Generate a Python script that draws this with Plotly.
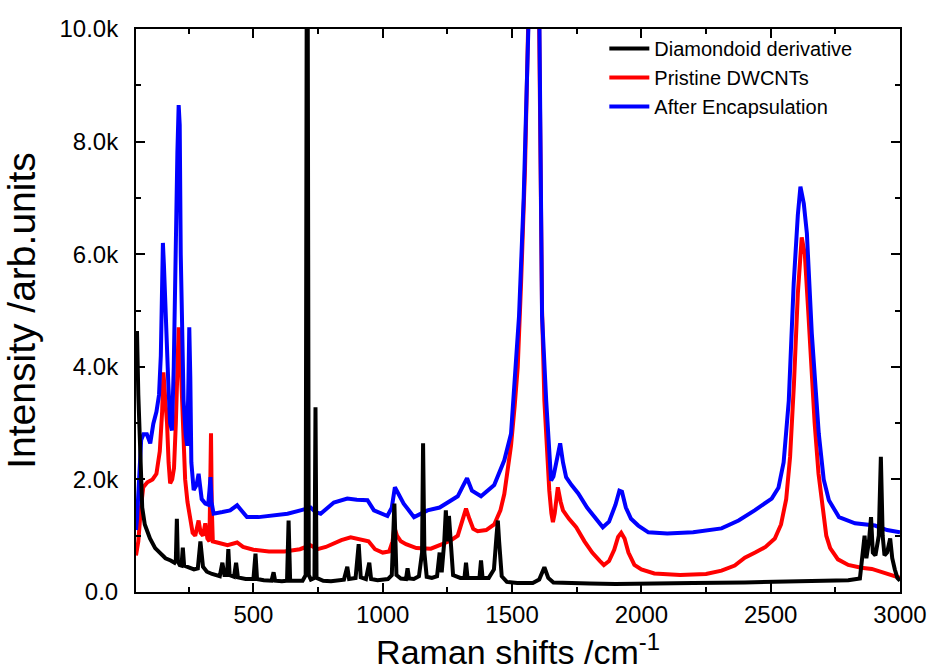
import plotly.graph_objects as go

# ---- data ----
black_x = [46, 50, 55, 62, 70, 80, 100, 120, 140, 160, 180, 195, 200, 204, 208, 215, 222, 227, 232, 250,
           270, 285, 295, 305, 320, 340, 370, 380, 388, 398, 403, 408, 425, 433, 440, 470, 500, 508, 514, 540,
           570, 578, 584, 610, 630, 636, 642, 690, 702, 706, 710, 714, 722, 736, 740, 744, 770, 800, 830, 850,
           863, 870, 895, 907, 915, 935, 948, 955, 980, 1020, 1035, 1045, 1053, 1070, 1090, 1096, 1102, 1120, 1140, 1152,
           1156, 1161, 1170, 1190, 1210, 1220, 1228, 1238, 1244, 1250, 1256, 1262, 1272, 1300, 1316, 1322, 1328, 1360, 1374, 1380,
           1386, 1410, 1430, 1440, 1445, 1450, 1460, 1480, 1520, 1580, 1605, 1625, 1640, 1660, 1700, 1800, 1900, 2000, 2200, 2400,
           2500, 2600, 2700, 2800, 2845, 2855, 2863, 2870, 2880, 2888, 2895, 2905, 2918, 2926, 2933, 2940, 2950, 2962, 2970, 2980,
           2990, 3000]
black_y = [4600, 4600, 3500, 2300, 1500, 1200, 950, 780, 680, 600, 560, 520, 560, 1300, 540, 480, 470, 790, 470, 430,
           400, 420, 900, 450, 360, 320, 280, 520, 300, 300, 760, 300, 270, 520, 260, 230, 230, 680, 230, 210,
           200, 350, 200, 190, 200, 1270, 200, 200, 300, 10500, 10500, 300, 220, 250, 3280, 250, 200, 190, 200, 220,
           450, 230, 250, 850, 260, 230, 520, 230, 210, 230, 300, 1570, 300, 240, 230, 420, 240, 230, 280, 700,
           2640, 700, 270, 250, 280, 700, 350, 900, 1450, 900, 1350, 1000, 300, 250, 250, 520, 250, 250, 250, 560,
           250, 250, 400, 1000, 1270, 900, 280, 180, 160, 160, 220, 440, 250, 170, 160, 150, 140, 150, 160, 170,
           180, 190, 200, 210, 240, 700, 1000, 600, 900, 1330, 700, 650, 1000, 2400, 1000, 650, 700, 950, 600, 400,
           250, 200]

red_x = [46, 55, 65, 74, 90, 110, 125, 138, 147, 152, 158, 166, 172, 178, 186, 193, 200, 206, 211, 216,
         222, 228, 236, 245, 255, 265, 275, 288, 296, 305, 314, 322, 330, 333, 336, 339, 343, 360, 400, 437,
         460, 500, 560, 620, 680, 720, 748, 780, 811, 840, 876, 920, 945, 970, 1000, 1025, 1038, 1045, 1055, 1070,
         1090, 1130, 1186, 1230, 1264, 1290, 1310, 1322, 1335, 1350, 1367, 1400, 1431, 1455, 1470, 1483, 1496, 1510, 1522, 1535,
         1550, 1562, 1585, 1605, 1610, 1616, 1625, 1635, 1644, 1652, 1658, 1665, 1677, 1688, 1697, 1720, 1748, 1780, 1810, 1840,
         1855, 1875, 1895, 1910, 1922, 1935, 1950, 1973, 2000, 2050, 2150, 2250, 2310, 2361, 2400, 2440, 2480, 2516, 2540, 2560,
         2575, 2590, 2605, 2620, 2632, 2645, 2658, 2670, 2685, 2700, 2715, 2730, 2760, 2800, 2850, 2891, 2950, 3000]
red_y = [650, 900, 1500, 1860, 1950, 2000, 2100, 2500, 3200, 3900, 3500, 3000, 2300, 1930, 2000, 2200, 3000, 3800, 4700, 4400,
         3600, 2600, 2000, 1600, 1300, 1050, 1000, 1270, 1050, 1000, 1220, 950, 900, 1600, 2820, 1500, 900, 880, 830, 880,
         800, 750, 720, 720, 760, 830, 760, 800, 860, 920, 970, 930, 900, 760, 700, 720, 900, 1150, 1000, 900,
         850, 780, 770, 850, 920, 1000, 1300, 1480, 1300, 1120, 1080, 1100, 1200, 1450, 1740, 2220, 2600, 3300, 4000, 5500,
         7500, 10000, 14000, 10000, 7000, 5000, 3400, 2400, 1800, 1400, 1240, 1400, 1860, 1600, 1450, 1300, 1150, 900, 700, 550,
         480, 550, 750, 980, 1050, 950, 700, 480, 400, 330, 300, 320, 380, 470, 610, 700, 800, 950, 1200, 1650,
         2400, 3700, 5300, 6300, 6000, 5000, 3900, 3000, 2100, 1500, 1000, 780, 580, 480, 430, 410, 330, 250]

blue_x = [46, 50, 58, 66, 75, 88, 101, 113, 125, 135, 142, 147, 150, 154, 159, 165, 171, 178, 185, 192,
          200, 206, 211, 215, 219, 224, 230, 238, 244, 249, 252, 256, 260, 269, 280, 288, 294, 300, 314, 325,
          330, 334, 338, 346, 380, 410, 437, 460, 475, 520, 592, 632, 682, 721, 740, 760, 811, 863, 900, 941,
          966, 1018, 1035, 1047, 1060, 1081, 1121, 1173, 1220, 1264, 1290, 1310, 1326, 1345, 1380, 1431, 1470, 1496, 1508, 1527,
          1545, 1568, 1587, 1606, 1612, 1616, 1632, 1645, 1651, 1660, 1672, 1686, 1697, 1709, 1730, 1756, 1790, 1818, 1851, 1875,
          1900, 1915, 1925, 1940, 1960, 1988, 2027, 2100, 2200, 2310, 2376, 2438, 2504, 2530, 2550, 2570, 2589, 2605, 2615, 2628,
          2640, 2659, 2686, 2705, 2725, 2764, 2826, 2903, 2950, 3000]
blue_y = [1100, 1300, 2000, 2700, 2800, 2800, 2640, 2990, 3200, 3500, 4200, 5600, 6200, 5800, 5000, 4200, 3700, 3000, 2870, 4000,
          6500, 7800, 8650, 8300, 6000, 4300, 3400, 2800, 2600, 3800, 4700, 3800, 2300, 1810, 1900, 2100, 1800, 1650, 1570, 1550,
          1800, 2040, 1600, 1390, 1420, 1450, 1540, 1400, 1330, 1330, 1360, 1390, 1450, 1500, 1420, 1390, 1590, 1660, 1640, 1630,
          1450, 1350, 1500, 1860, 1750, 1570, 1330, 1450, 1500, 1630, 1700, 1880, 2020, 1800, 1700, 1900, 2340, 2810, 3600, 4900,
          7000, 10000, 14000, 10000, 6000, 4900, 3400, 2300, 1980, 2050, 2300, 2640, 2300, 2040, 1900, 1750, 1500, 1330, 1150, 1250,
          1550, 1800, 1780, 1500, 1300, 1180, 1060, 1040, 1060, 1130, 1270, 1450, 1660, 1850, 2300, 3400, 5480, 6700, 7200, 6900,
          6370, 4590, 2810, 2000, 1630, 1330, 1220, 1180, 1100, 1060]

series_names = ["Diamondoid derivative", "Pristine DWCNTs", "After Encapsulation"]
series_colors = ["#000000", "#FF0000", "#0000FF"]

y_tickvals = [0, 2000, 4000, 6000, 8000, 10000]
y_ticktext = ["0.0", "2.0k", "4.0k", "6.0k", "8.0k", "10.0k"]
x_tickvals = [500, 1000, 1500, 2000, 2500, 3000]
x_ticktext = ["500", "1000", "1500", "2000", "2500", "3000"]

x_title = "Raman shifts /cm<sup>-1</sup>"
y_title = "Intensity /arb.units"

FONT = "Liberation Sans, Arial, sans-serif"
LW = 4

fig = go.Figure()
# draw order: red, blue, black (black on top); legend order via legendrank
fig.add_trace(go.Scatter(x=red_x, y=red_y, mode="lines", name=series_names[1],
                         line=dict(color=series_colors[1], width=LW), legendrank=2))
fig.add_trace(go.Scatter(x=blue_x, y=blue_y, mode="lines", name=series_names[2],
                         line=dict(color=series_colors[2], width=LW), legendrank=3))
fig.add_trace(go.Scatter(x=black_x, y=black_y, mode="lines", name=series_names[0],
                         line=dict(color=series_colors[0], width=LW), legendrank=1))

axis_common = dict(showline=True, linecolor="black", linewidth=2, mirror="allticks",
                   ticks="inside", ticklen=9, tickwidth=2, tickcolor="black",
                   showgrid=False, zeroline=False, automargin=False,
                   tickfont=dict(family=FONT, size=24, color="black"))

fig.update_xaxes(range=[46, 3000], tickvals=x_tickvals, ticktext=x_ticktext,
                 minor=dict(ticks="inside", ticklen=5, tickwidth=2, tickcolor="black", dtick=250, tick0=0),
                 title=dict(text=x_title, font=dict(family=FONT, size=34, color="black")),
                 ticklabelstandoff=0,
                 **axis_common)
fig.update_yaxes(range=[0, 10000], tickvals=y_tickvals, ticktext=y_ticktext,
                 minor=dict(ticks="inside", ticklen=5, tickwidth=2, tickcolor="black", dtick=1000, tick0=0),
                 title=dict(text=y_title, font=dict(family=FONT, size=39, color="black")),
                 ticklabelstandoff=11,
                 **axis_common)

fig.update_layout(
    width=934, height=671,
    margin=dict(l=136, r=34, t=29, b=79, autoexpand=False),
    paper_bgcolor="white", plot_bgcolor="white",
    font=dict(family=FONT, color="black"),
    legend=dict(x=0.613, y=1.0, xanchor="left", yanchor="top",
                bgcolor="rgba(0,0,0,0)", font=dict(family=FONT, size=20, color="black"),
                tracegroupgap=0, itemwidth=40),
    showlegend=True,
)

fig.write_html("out.html")
